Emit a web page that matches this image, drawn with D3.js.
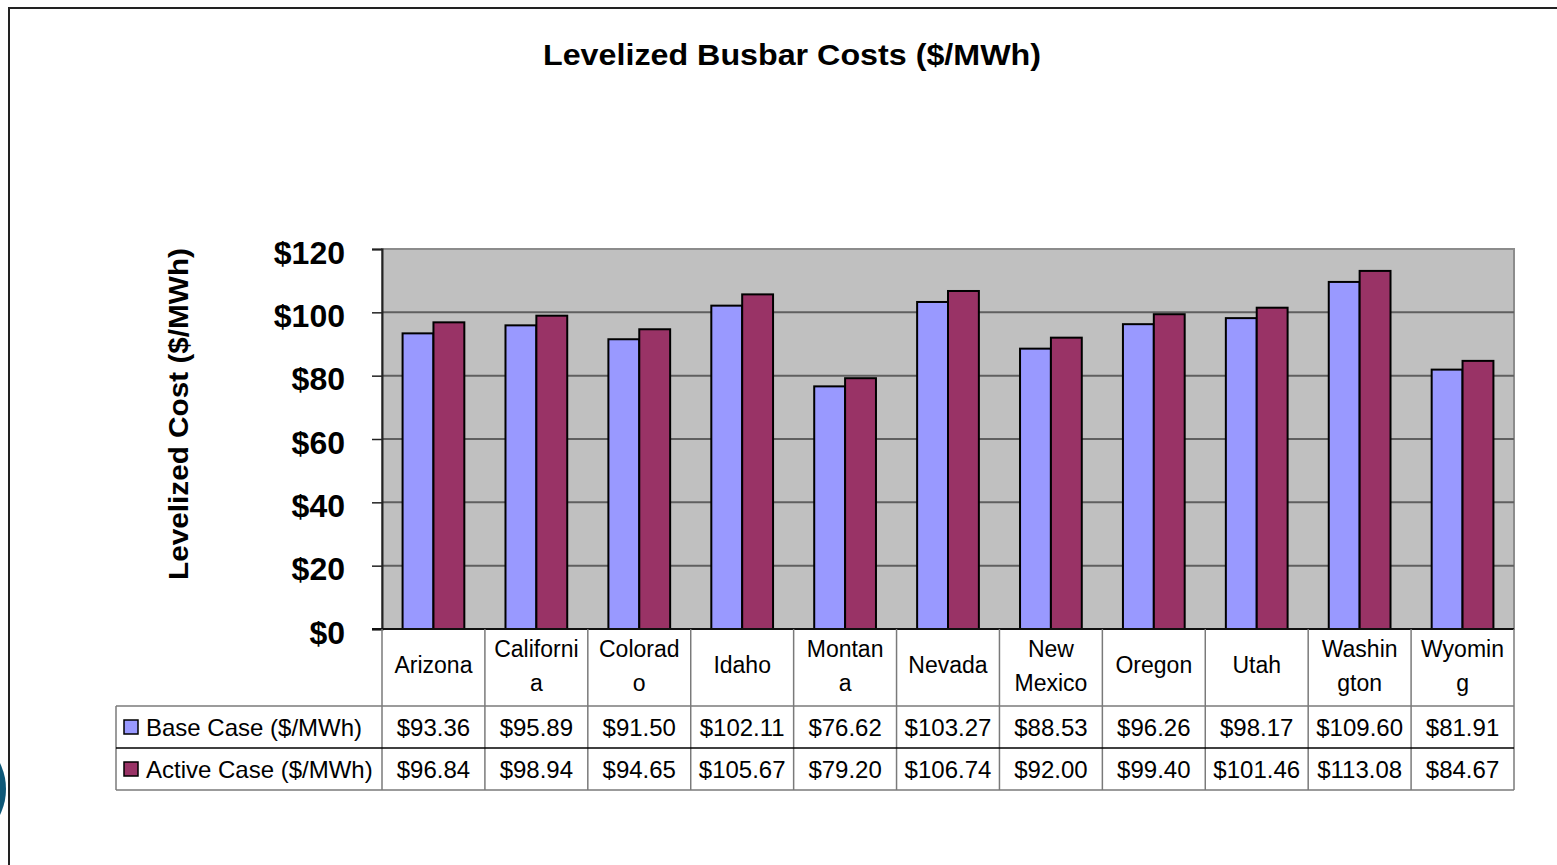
<!DOCTYPE html>
<html>
<head>
<meta charset="utf-8">
<script src="https://cdn.jsdelivr.net/npm/d3@7"></script>
<style>
  body { margin: 0; background: #fff; }
  svg text { font-family: "Liberation Sans", Arial, sans-serif; }
</style>
</head>
<body>
<svg id="chart" width="1557" height="865"></svg>
<script>
// chart values
var categories = ['Arizona', 'California', 'Colorado', 'Idaho', 'Montana', 'Nevada',
  'New Mexico', 'Oregon', 'Utah', 'Washington', 'Wyoming'];
// the category labels as they wrap in the table header
var categoryLines = [['Arizona'], ['Californi', 'a'], ['Colorad', 'o'], ['Idaho'], ['Montan', 'a'],
  ['Nevada'], ['New', 'Mexico'], ['Oregon'], ['Utah'], ['Washin', 'gton'], ['Wyomin', 'g']];
var seriesNames = ['Base Case ($/MWh)', 'Active Case ($/MWh)'];
var baseCase = [93.36, 95.89, 91.50, 102.11, 76.62, 103.27, 88.53, 96.26, 98.17, 109.60, 81.91];
var activeCase = [96.84, 98.94, 94.65, 105.67, 79.20, 106.74, 92.00, 99.40, 101.46, 113.08, 84.67];
var yTicks = [0, 20, 40, 60, 80, 100, 120];

var colors = ['#9999ff', '#993366'];
var series = [baseCase, activeCase];

var svg = d3.select('#chart');

// page frame + the bit of a logo at the left edge
svg.append('path')
  .attr('d', 'M9,866 V8 H1560')
  .attr('fill', 'none')
  .attr('stroke', '#222')
  .attr('stroke-width', 2);
svg.append('circle')
  .attr('cx', -53).attr('cy', 789).attr('r', 59)
  .attr('fill', '#0d5878');

var plotLeft = 382, plotRight = 1514, plotTop = 249, plotBottom = 629;

var x = d3.scaleBand().domain(categories).range([plotLeft, plotRight])
  .paddingInner(0.4).paddingOuter(0.2);
var xs = d3.scaleBand().domain([0, 1]).range([0, x.bandwidth()]);
var y = d3.scaleLinear().domain([0, 120]).range([plotBottom, plotTop]);

// title
svg.append('text')
  .attr('x', 792).attr('y', 65)
  .attr('text-anchor', 'middle')
  .attr('font-size', 29).attr('font-weight', 'bold')
  .attr('textLength', 498).attr('lengthAdjust', 'spacingAndGlyphs')
  .text('Levelized Busbar Costs ($/MWh)');

// plot background
svg.append('rect')
  .attr('x', plotLeft).attr('y', plotTop)
  .attr('width', plotRight - plotLeft).attr('height', plotBottom - plotTop)
  .attr('fill', '#c0c0c0')
  .attr('stroke', '#8c8c8c').attr('stroke-width', 2);

// gridlines
svg.append('g')
  .selectAll('line')
  .data(yTicks.filter(function(d) { return d > 0 && d < 120; }))
  .enter().append('line')
  .attr('x1', plotLeft).attr('x2', plotRight)
  .attr('y1', function(d) { return y(d); })
  .attr('y2', function(d) { return y(d); })
  .attr('stroke', '#5f5f5f').attr('stroke-width', 2);

// y axis
var yAxis = svg.append('g')
  .attr('transform', 'translate(' + plotLeft + ',0)')
  .call(d3.axisLeft(y).tickValues(yTicks).tickSize(10).tickPadding(27)
    .tickFormat(function(d) { return '$' + d; }));
yAxis.select('.domain').attr('stroke', '#222').attr('stroke-width', 2);
yAxis.selectAll('.tick line').attr('stroke', '#222').attr('stroke-width', 1.5);
yAxis.selectAll('.tick text')
  .attr('font-size', 32).attr('font-weight', 'bold').attr('fill', '#000')
  .attr('dy', '0.44em')
  .attr('font-family', '"Liberation Sans", Arial, sans-serif');

svg.append('text')
  .attr('transform', 'translate(188,414) rotate(-90)')
  .attr('text-anchor', 'middle')
  .attr('font-size', 28).attr('font-weight', 'bold')
  .attr('textLength', 332).attr('lengthAdjust', 'spacingAndGlyphs')
  .text('Levelized Cost ($/MWh)');

// bars
series.forEach(function(values, si) {
  svg.append('g')
    .selectAll('rect')
    .data(values)
    .enter().append('rect')
    .attr('x', function(d, i) { return x(categories[i]) + xs(si); })
    .attr('y', function(d) { return y(d); })
    .attr('width', xs.bandwidth())
    .attr('height', function(d) { return y(0) - y(d); })
    .attr('fill', colors[si])
    .attr('stroke', '#000').attr('stroke-width', 2);
});

// x axis line
svg.append('line')
  .attr('x1', 372).attr('x2', plotRight)
  .attr('y1', plotBottom).attr('y2', plotBottom)
  .attr('stroke', '#111').attr('stroke-width', 2);

// data table
var row0 = 629, row1 = 706, row2 = 748, row3 = 790, tableLeft = 116;
var step = x.step();
var cellX = function(i) { return plotLeft + i * step; };

var grid = svg.append('g').attr('stroke', '#7a7a7a').attr('stroke-width', 1.5);
d3.range(categories.length + 1).forEach(function(i) {
  grid.append('line')
    .attr('x1', cellX(i)).attr('x2', cellX(i))
    .attr('y1', row0).attr('y2', row3);
});
grid.append('line').attr('x1', tableLeft).attr('x2', tableLeft).attr('y1', row1).attr('y2', row3);
grid.append('line').attr('x1', tableLeft).attr('x2', plotRight).attr('y1', row1).attr('y2', row1);
grid.append('line').attr('x1', tableLeft).attr('x2', plotRight).attr('y1', row3).attr('y2', row3);
svg.append('line').attr('x1', tableLeft).attr('x2', plotRight).attr('y1', row2).attr('y2', row2)
  .attr('stroke', '#000').attr('stroke-width', 1.5);

// category labels
categories.forEach(function(c, i) {
  var lines = categoryLines[i];
  var cx = x(c) + x.bandwidth() / 2;
  var t = svg.append('text')
    .attr('text-anchor', 'middle')
    .attr('font-size', 23);
  lines.forEach(function(l, li) {
    var cy = lines.length === 1 ? 673 : 657 + li * 34;
    t.append('tspan').attr('x', cx).attr('y', cy).text(l);
  });
});

// legend keys and values
[row1, row2].forEach(function(rt, si) {
  var mid = rt + 21;
  svg.append('rect')
    .attr('x', 124).attr('y', mid - 7)
    .attr('width', 14).attr('height', 14)
    .attr('fill', colors[si]).attr('stroke', '#000').attr('stroke-width', 1.5);
  svg.append('text')
    .attr('x', 146).attr('y', mid + 9)
    .attr('font-size', 24)
    .text(seriesNames[si]);
  svg.append('g')
    .selectAll('text')
    .data(series[si])
    .enter().append('text')
    .attr('x', function(d, i) { return x(categories[i]) + x.bandwidth() / 2; })
    .attr('y', mid + 9)
    .attr('text-anchor', 'middle')
    .attr('font-size', 24)
    .text(function(d) { return '$' + d.toFixed(2); });
});
</script>
</body>
</html>
